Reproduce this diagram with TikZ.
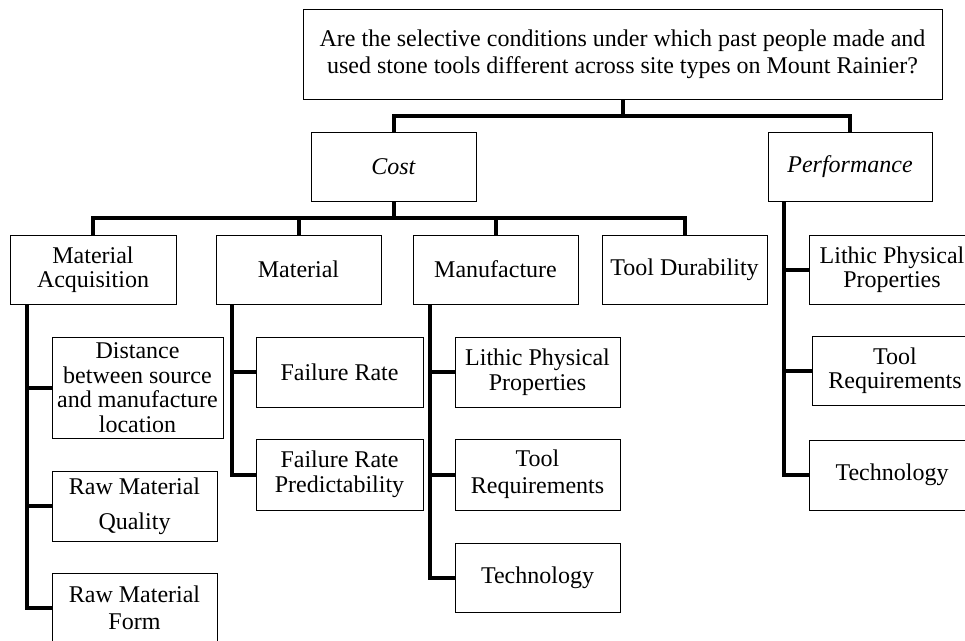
\documentclass[tikz,border=0pt]{standalone}
\usepackage{fontspec}
\setmainfont{Liberation Serif}
\usetikzlibrary{calc}
\begin{document}
\begin{tikzpicture}[x=1pt,y=-1pt,
  box/.style={draw=black, line width=1pt, inner sep=0pt, align=center,
    font=\fontsize{24}{24.5}\selectfont, fill=white},
  wh/.style 2 args={minimum width=#1, minimum height=#2},
  conn/.style={line width=4pt, draw=black}]
\useasboundingbox[fill=white] (0,0) rectangle (965,640);
% boxes
\node[box, wh={639}{90}, font=\fontsize{24}{27}\selectfont] (top) at (622.5,54)
  {Are the selective conditions under which past people made and\\used stone tools different across site types on Mount Rainier?};
\node[box, wh={165}{69}] (cost) at (393.5,166.5) {\textit{Cost}};
\node[box, wh={164}{69}] (perf) at (850,166.5) {\textit{Performance}};
\node[box, wh={166}{69}] (ma) at (93,269.5) {Material\\Acquisition};
\node[box, wh={165}{69}] (mat) at (298.5,269.5) {Material};
\node[box, wh={165}{69}] (mfg) at (495.5,269.5) {Manufacture};
\node[box, wh={165}{69}] (td) at (684.5,269.5) {Tool Durability};
\node[box, wh={166}{69}] (plith) at (892,269.5) {Lithic Physical\\Properties};
\node[box, wh={166}{69}] (ptool) at (895,370.5) {Tool\\Requirements};
\node[box, wh={166}{70}] (ptech) at (892,475) {Technology};
\node[box, wh={171}{101}] (dist) at (137.5,387.5) {Distance\\between source\\and manufacture\\location};
\node[box, wh={165}{70}, font=\fontsize{24}{35}\selectfont] (rmq) at (134.5,506) {Raw Material\\Quality};
\node[box, wh={165}{70}, font=\fontsize{24}{27}\selectfont] (rmf) at (134.5,608) {Raw Material\\Form};
\node[box, wh={167}{70}] (fr) at (339.5,372) {Failure Rate};
\node[box, wh={167}{71}] (frp) at (339.5,474.5) {Failure Rate\\Predictability};
\node[box, wh={165}{70}] (mlith) at (537.5,372) {Lithic Physical\\Properties};
\node[box, wh={165}{71}, font=\fontsize{24}{27}\selectfont] (mtool) at (537.5,474.5) {Tool\\Requirements};
\node[box, wh={165}{69}] (mtech) at (537.5,577.5) {Technology};
% top level connectors
\path (top.south) ++(0,16) coordinate (j1);
\draw[conn] (cost.north) |- (j1) -| (perf.north);
\draw[conn] (top.south) -- (j1);
% cost level
\path (cost.south) ++(0,16) coordinate (j2);
\draw[conn] (ma.north) |- (j2) -| (td.north);
\draw[conn] (cost.south) -- (j2);
\draw[conn] (mat.north) -- (mat.north |- j2);
\draw[conn] (mfg.north) -- (mfg.north |- j2);
% trunks
\coordinate (tma) at ($(ma.south west)+(17,0)$);
\draw[conn] (tma) |- (dist.west);
\draw[conn] (tma) |- (rmq.west);
\draw[conn] (tma) |- (rmf.west);
\coordinate (tmat) at ($(mat.south west)+(16,0)$);
\draw[conn] (tmat) |- (fr.west);
\draw[conn] (tmat) |- (frp.west);
\coordinate (tmfg) at ($(mfg.south west)+(17,0)$);
\draw[conn] (tmfg) |- (mlith.west);
\draw[conn] (tmfg) |- (mtool.west);
\draw[conn] (tmfg) |- (mtech.west);
\coordinate (tperf) at ($(perf.south west)+(16,0)$);
\draw[conn] (tperf) |- (plith.west);
\draw[conn] (tperf) |- (ptool.west);
\draw[conn] (tperf) |- (ptech.west);
\end{tikzpicture}
\end{document}
